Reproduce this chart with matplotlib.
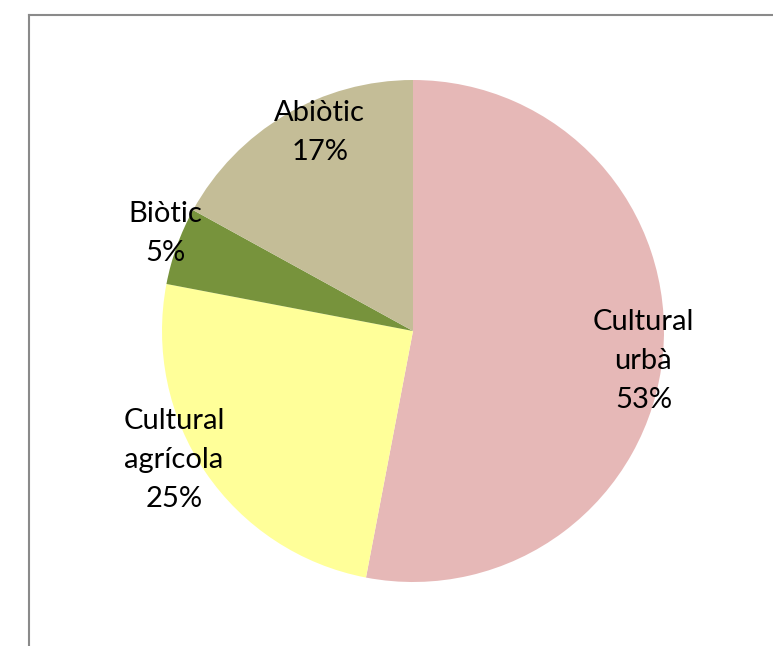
import matplotlib
matplotlib.use("Agg")
import matplotlib.pyplot as plt
from matplotlib.lines import Line2D

categories = ["Cultural\nurbà", "Cultural\nagrícola", "Biòtic", "Abiòtic"]
shares = [53, 25, 5, 17]
colors = ["#E6B8B7", "#FFFF99", "#77933C", "#C4BD97"]
# label centres in units of the pie radius
label_xy = [(0.918, -0.120), (-0.952, -0.514), (-0.988, 0.390), (-0.371, 0.789)]

plt.rcParams["font.family"] = ["Lato", "DejaVu Sans"]

W, H = 773, 646
fig = plt.figure(figsize=(W / 100, H / 100), dpi=100)
fig.patch.set_facecolor("white")

# pie area: centre (413, 331) px, radius 251 px
cx, cy, r = 413, 331, 251
ax = fig.add_axes([(cx - r) / W, (H - cy - r) / H, 2 * r / W, 2 * r / H])
wedges, _ = ax.pie(shares, colors=colors, startangle=90, counterclock=False,
                   radius=1.0, wedgeprops=dict(linewidth=0))
ax.set_xlim(-1, 1)
ax.set_ylim(-1, 1)
ax.set_aspect("equal")
ax.axis("off")

for cat, v, (x, y) in zip(categories, shares, label_xy):
    ax.text(x, y, f"{cat}\n{v}%", ha="center", va="center", fontsize=21,
            linespacing=1.62, color="black")

# chart frame (top and left borders)
frame_col = "#8A8A8A"
fig.add_artist(Line2D([29 / W, 1], [1 - 15 / H, 1 - 15 / H],
                      transform=fig.transFigure, color=frame_col, lw=1.5))
fig.add_artist(Line2D([29 / W, 29 / W], [0, 1 - 15 / H],
                      transform=fig.transFigure, color=frame_col, lw=1.5))

fig.savefig("out.png", dpi=100)
